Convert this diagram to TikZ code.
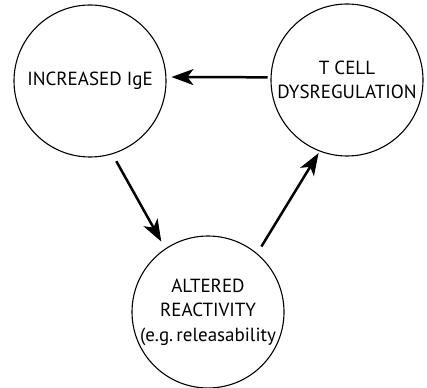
\documentclass[tikz,border=0pt]{standalone}
\usepackage{fontspec}
\setmainfont{PT Sans}
\usepackage{tikz}
\usetikzlibrary{arrows.meta,automata}

\begin{document}
\begin{tikzpicture}[x=1pt,y=1pt,-{Stealth[length=22pt,width=16pt,inset=6pt]},line width=2.5pt,shorten >=5pt]
\tikzstyle{every state}=[fill=none,draw=black,text=black,line width=1.1pt,minimum size=152pt,inner sep=0pt,align=center,font=\fontsize{19}{24.5}\selectfont]
\useasboundingbox (0,0) rectangle (427,-387);

\node[state]         (IgE) at (90,-81)   {INCREASED IgE};
\node[state]         (TC)  at (347,-80)  {T CELL\\DYSREGULATION};
\node[state]         (AR)  at (208,-312) {ALTERED\\REACTIVITY\\(e.g.\,releasability};
\path (TC.178) edge [shorten <=3pt]             node {} (IgE.3)
(IgE.-73) edge [shorten <=8pt,shorten >=8pt]    node {} (AR.124)
(AR.50) edge [shorten <=8pt,shorten >=2pt]      node {} (TC.-111);
\end{tikzpicture}
\end{document}
